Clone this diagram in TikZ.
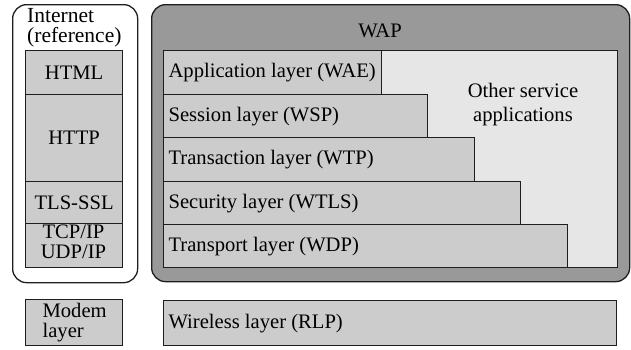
\documentclass[tikz,border=0pt]{standalone}
\usepackage{fontspec}
\setmainfont{Liberation Serif}
\definecolor{layerfill}{HTML}{CCCCCC}
\definecolor{wapfill}{HTML}{999999}
\definecolor{otherfill}{HTML}{E6E6E6}
\definecolor{edge}{HTML}{1E1E1E}
\newcommand{\lbox}[2]{\makebox[#1][l]{#2}}
\begin{document}
\begin{tikzpicture}[x=1pt,y=-1pt,
  every node/.style={font=\fontsize{20.6}{20}\selectfont, text=black},
  outerbox/.style={draw=edge, line width=1.3pt, rounded corners=14pt, rectangle, anchor=north west, inner sep=0pt},
  layerbox/.style={draw=edge, line width=1.2pt, fill=layerfill, rectangle, anchor=north west, inner xsep=5pt, inner ysep=0pt},
  inetbox/.style={draw=edge, line width=1.2pt, fill=layerfill, rectangle, anchor=north west, inner sep=0pt, minimum width=97, align=center},
  plaintext/.style={inner sep=0pt}
]
\useasboundingbox (0,0) rectangle (631,349);

% Internet column
\node[outerbox, fill=white, minimum width=125, minimum height=278] (inet) at (12,4) {};
\node[plaintext, anchor=north west, align=left, font=\fontsize{21.5}{20.5}\selectfont] (inettitle) at (27,8) {Internet\\(reference)};
\node[inetbox, minimum height=44] (html) at (25,50) {HTML};
\node[inetbox, minimum height=87] (http) at (25,94) {HTTP};
\node[inetbox, minimum height=42] (tls) at (25,181) {TLS-SSL};
\node[inetbox, minimum height=44] (tcp) at (25,223) {};
\node[plaintext, align=center] (tcptxt) at (73.5,242) {TCP/IP\\UDP/IP};
\node[layerbox, inner xsep=17pt, text width=63pt, align=left, minimum height=46] (modem) at (25,299) {Modem\\layer};

% WAP column
\node[outerbox, fill=wapfill, minimum width=478, minimum height=277] (wap) at (151,4) {};
\node[plaintext, anchor=base] (waptitle) at (380,37) {WAP};
\node[draw=edge, line width=1.2pt, fill=otherfill, rectangle, anchor=north west, inner sep=0pt, minimum width=454, minimum height=217] (other) at (163,50) {};
\node[plaintext, anchor=north, align=center, font=\fontsize{20.6}{24}\selectfont] (othertxt) at (523,83) {Other service\\applications};

\node[layerbox, minimum height=44] (wae) at (163,50) {\lbox{208pt}{Application layer (WAE)}};
\node[layerbox, minimum height=43] (wsp) at (163,94) {\lbox{254pt}{Session layer (WSP)}};
\node[layerbox, minimum height=44] (wtp) at (163,137) {\lbox{301pt}{Transaction layer (WTP)}};
\node[layerbox, minimum height=43] (wtls) at (163,181) {\lbox{347pt}{Security layer (WTLS)}};
\node[layerbox, minimum height=43] (wdp) at (163,224) {\lbox{394pt}{Transport layer (WDP)}};

\node[layerbox, minimum height=45] (rlp) at (163,300) {\lbox{443pt}{Wireless layer (RLP)}};
\end{tikzpicture}
\end{document}
